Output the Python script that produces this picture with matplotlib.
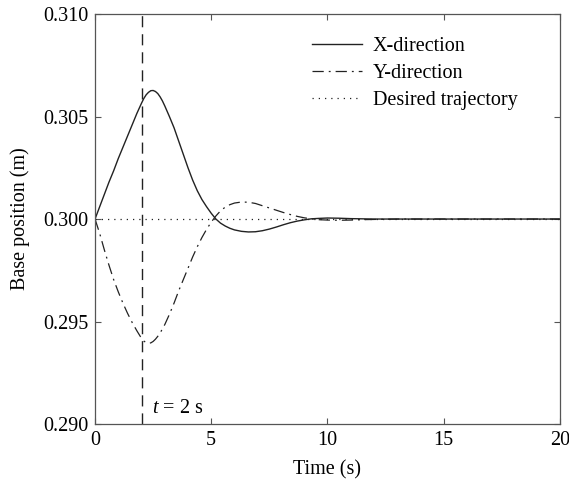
import matplotlib
matplotlib.use('Agg')
import matplotlib.pyplot as plt

# values (offset from 0.300 m, in mm)
t_x = [0, 0.2, 0.4, 0.6, 0.8, 1.0, 1.2, 1.4, 1.6, 1.8, 2.0, 2.1, 2.2, 2.3,
       2.4, 2.5, 2.6, 2.7, 2.8, 2.9, 3.0, 3.2, 3.4, 3.6, 3.8, 4.0, 4.2, 4.4,
       4.6, 4.8, 5.0, 5.2, 5.4, 5.6, 5.8, 6.0, 6.3, 6.6, 6.9, 7.2, 7.5, 7.8,
       8.1, 8.4, 8.7, 9.0, 9.3, 9.6, 10.0, 10.5, 11.0, 11.5, 12.0, 20.0]
x_dev = [0, 0.6, 1.2, 1.8, 2.35, 2.95, 3.5, 4.05, 4.6, 5.15, 5.65, 5.88, 6.06,
         6.18, 6.26, 6.27, 6.22, 6.12, 5.96, 5.76, 5.52, 5.0, 4.45, 3.8, 3.15,
         2.5, 1.9, 1.38, 0.95, 0.6, 0.28, 0.0, -0.2, -0.34, -0.45, -0.53,
         -0.6, -0.63, -0.62, -0.57, -0.49, -0.39, -0.28, -0.18, -0.1, -0.04,
         0.01, 0.03, 0.05, 0.04, 0.02, 0.01, 0.0, 0.0]

t_y = [0, 0.2, 0.4, 0.6, 0.8, 1.0, 1.2, 1.4, 1.6, 1.8, 2.0, 2.1, 2.2, 2.3,
       2.4, 2.5, 2.6, 2.7, 2.8, 3.0, 3.2, 3.4, 3.6, 3.8, 4.0, 4.2, 4.4, 4.6,
       4.8, 5.0, 5.2, 5.4, 5.6, 5.8, 6.0, 6.3, 6.6, 6.9, 7.2, 7.5, 7.8, 8.1,
       8.4, 8.7, 9.0, 9.3, 9.6, 10.0, 10.5, 11.0, 11.5, 12.0, 13.0, 20.0]
y_dev = [0, -0.7, -1.5, -2.25, -2.95, -3.55, -4.1, -4.6, -5.05, -5.45, -5.82,
         -5.95, -6.03, -6.06, -6.04, -5.97, -5.86, -5.72, -5.56, -5.15, -4.65,
         -4.1, -3.5, -2.95, -2.4, -1.85, -1.35, -0.9, -0.5, -0.15, 0.15, 0.4,
         0.58, 0.7, 0.78, 0.83, 0.82, 0.76, 0.65, 0.54, 0.43, 0.32, 0.22, 0.13,
         0.06, 0.01, -0.03, -0.05, -0.06, -0.05, -0.03, -0.02, 0.0, 0.0]

base = 0.300
t_mark = 2
x_ticks = [0, 5, 10, 15, 20]
y_ticks = [0.290, 0.295, 0.300, 0.305, 0.310]

plt.rcParams['font.family'] = ['Liberation Serif', 'DejaVu Serif']
plt.rcParams['mathtext.fontset'] = 'custom'
plt.rcParams['mathtext.it'] = 'Liberation Serif:italic'
plt.rcParams['mathtext.rm'] = 'Liberation Serif'

fs = 14.5
fig = plt.figure(figsize=(5.69, 4.83), dpi=100)
ax = fig.add_axes([0.167, 0.122, 0.817, 0.849])

line_col = '#222222'
ax.plot(t_x, [base + d / 1000 for d in x_dev], color=line_col, lw=1.0,
        label='X-direction')
ax.plot(t_y, [base + d / 1000 for d in y_dev], color=line_col, lw=0.9,
        dashes=(9, 4, 1.5, 4), label='Y-direction')
ax.plot([0, 20], [base, base], color=line_col, lw=0.9, dashes=(1, 4),
        label='Desired trajectory')
ax.plot([t_mark, t_mark], [0.290, 0.310], color=line_col, lw=1.0,
        dashes=(8, 5))

ax.text(2.45, 0.2903, r'$t$ = 2 s', fontsize=fs, ha='left', va='bottom')

ax.set_xlim(0, 20)
ax.set_ylim(0.290, 0.310)
ax.set_xticks(x_ticks)
ax.set_yticks(y_ticks)
ax.set_yticklabels([f'{v:.3f}' for v in y_ticks])
ax.tick_params(direction='in', length=4, width=0.8, color='#555555',
               labelsize=fs, top=True, right=True, pad=5)
for sp in ax.spines.values():
    sp.set_color('#555555')
    sp.set_linewidth(0.9)

ax.set_xlabel('Time (s)', fontsize=fs, labelpad=7)
ax.set_ylabel('Base position (m)', fontsize=fs, labelpad=9)

ax.legend(loc='upper left', bbox_to_anchor=(0.467, 0.943), frameon=False,
          fontsize=fs, handlelength=2.5, handletextpad=0.5,
          labelspacing=0.38, borderpad=0, borderaxespad=0)

fig.savefig('out.png', dpi=100)
